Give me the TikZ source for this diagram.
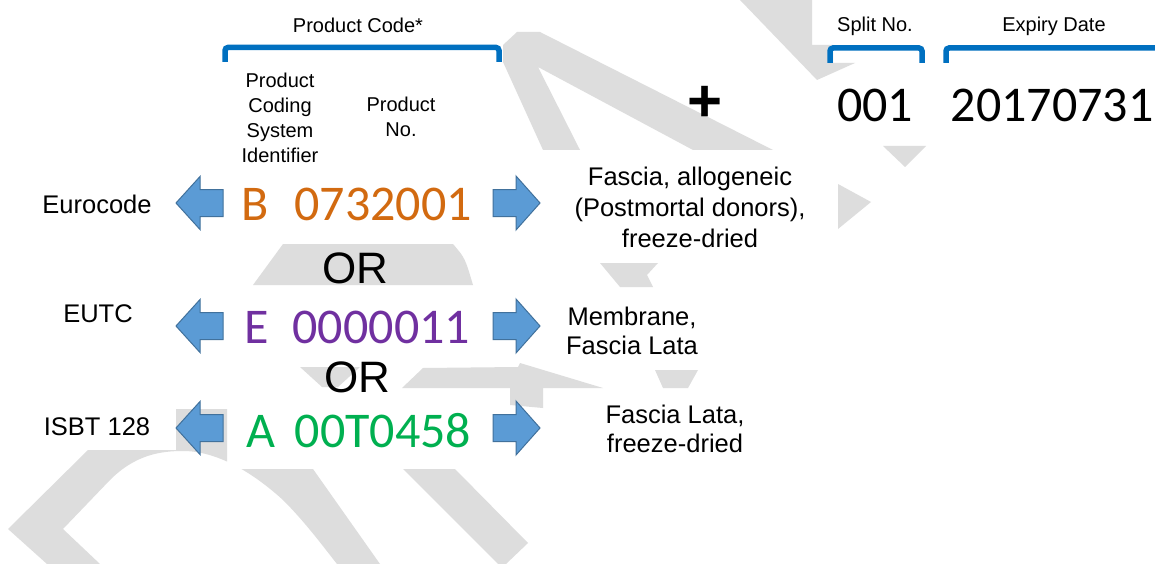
\documentclass[tikz,border=0pt]{standalone}
\usepackage{fontspec}
\setmainfont{Liberation Sans}
\newfontfamily\codefont{Carlito}

\definecolor{wmgrey}{RGB}{221,221,221}
\definecolor{bracketblue}{RGB}{0,112,192}
\definecolor{arrowfill}{RGB}{91,155,213}
\definecolor{arrowline}{RGB}{65,113,156}
\definecolor{codeorange}{RGB}{210,106,16}
\definecolor{codepurple}{RGB}{112,48,160}
\definecolor{codegreen}{RGB}{0,176,80}

\tikzset{
  wm/.style={fill=wmgrey,draw=none},
  bracket/.style={draw=bracketblue,line width=5.5pt,rounded corners=3pt},
  blockarrow/.style={fill=arrowfill,draw=arrowline,line width=1pt,line join=miter},
  hdr/.style={inner sep=0pt,anchor=base,font=\fontsize{20}{25}\selectfont},
  sublabel/.style={inner sep=0pt,anchor=base,align=center,font=\fontsize{20}{25}\selectfont},
  syslabel/.style={inner sep=0pt,anchor=base,font=\fontsize{25.5}{30}\selectfont},
  desc/.style={inner sep=0pt,anchor=base,align=center,font=\fontsize{25.5}{#1}\selectfont},
  desc/.default=29,
  codetext/.style={inner sep=0pt,anchor=base west,font=\codefont\fontsize{50}{60}\selectfont},
  bigdigits/.style={inner sep=0pt,font=\codefont\fontsize{50}{60}\selectfont},
  ortext/.style={inner sep=0pt,anchor=base,font=\fontsize{44}{50}\selectfont},
  leftarrow/.pic={\draw[blockarrow] (0,0) -- (24,-26.5) -- (24,-13.5) -- (47,-13.5)
      -- (47,13.5) -- (24,13.5) -- (24,26.5) -- cycle;},
  rightarrow/.pic={\draw[blockarrow] (0,0) -- (-24,-27) -- (-24,-13.5) -- (-47,-13.5)
      -- (-47,13.5) -- (-24,13.5) -- (-24,27) -- cycle;}
}

\begin{document}
\begin{tikzpicture}[x=1pt,y=-1pt]
\useasboundingbox[fill=white] (0,0) rectangle (1155,564);

% light grey background shapes
\fill[wm] (740,0) -- (812,0) -- (812,45) -- (833,45) -- (833,63) -- (855,63) -- (817,80) -- cycle;
\fill[wm] (503,62) -- (503,45) -- (517,32) -- (540,32) -- (773,150) -- (693,150)
  -- (538,67) -- (580,150) -- (543,150) -- cycle;
\fill[wm] (600,263) -- (658,263) -- (647,275) -- (653,287) -- (620,287) -- cycle;
\fill[wm] (655,370) -- (698,370) -- (688,388) -- (663,388) -- cycle;
\fill[wm] (402,388) -- (423,368) -- (518,367) -- (520,363) -- (603,388) -- (543,388)
  -- (543,408) -- (510,405) -- (510,388) -- cycle;
\fill[wm] (300,367) -- (360,367) -- (338,387) -- (322,387) -- cycle;
\fill[wm] (253,285) -- (283,244) -- (453,244) .. controls (465,258) .. (473,285) -- cycle;
\fill[wm] (883,146) -- (926,146) -- (905,167) -- cycle;
\fill[wm] (838,184) -- (871,202) -- (838,229) -- cycle;
\begin{scope}
  \clip (0,450) -- (176,450) -- (176,409) -- (227,409) -- (227,469) -- (1155,469)
    -- (1155,564) -- (0,564) -- cycle;
  \fill[wm] (47,564) -- (8,529) -- (88,450)
    .. controls (120,418) and (160,395) .. (205,395)
    .. controls (255,395) and (290,430) .. (313,469) -- (380,564) -- (337,564)
    .. controls (322,545) and (305,522) .. (283,500)
    .. controls (250,470) and (215,451) .. (183,451)
    .. controls (160,451) and (135,455) .. (110,480) -- (63,529) -- (100,564) -- cycle;
  \fill[wm] (403,469) -- (455,469) -- (528,543) -- (506,564) -- (498,564) -- cycle;
\end{scope}

% field headers and brackets
\node[hdr] (hdr-product) at (358,33) {Product Code*};
\node[hdr] (hdr-split) at (875,32) {Split No.};
\node[hdr] (hdr-expiry) at (1054,32) {Expiry Date};
\draw[bracket] (225,62) -- (225,47.5) -- (499,47.5) -- (499,62);
\draw[bracket] (830,63) -- (830,48) -- (922,48) -- (922,63);
\draw[bracket] (946,63) -- (946,48) -- (1170,48);

\node[sublabel] (sub-system) at (280,163) {Product\\Coding\\System\\Identifier};
\node[sublabel] (sub-number) at (401,137) {Product\\No.};

\node[inner sep=0pt,font=\fontsize{60}{60}\selectfont\bfseries] (plus) at (705,104) {+};
\node[bigdigits,anchor=base] (split-value) at (875,122) {001};
\node[bigdigits,anchor=base west] (expiry-value) at (950.5,122) {20170731};

% the three coding systems
\node[codetext,text=codeorange] (code-euro) at (241,220) {B\hspace{26pt}0732001};
\node[codetext,text=codepurple] (code-eutc) at (244,343) {E\hspace{24pt}0000011};
\node[codetext,text=codegreen] (code-isbt) at (246.7,447) {A\hspace{19pt}00T0458};

\node[ortext] (or-1) at (355,283) {OR};
\node[ortext] (or-2) at (357,392) {OR};

\node[syslabel] (sys-euro) at (97,213) {Eurocode};
\node[syslabel] (sys-eutc) at (98,322) {EUTC};
\node[syslabel] (sys-isbt) at (97,435) {ISBT 128};

\pic at (176,203) {leftarrow};
\pic at (176,326) {leftarrow};
\pic at (176,428) {leftarrow};
\pic at (540,203) {rightarrow};
\pic at (540,326) {rightarrow};
\pic at (540,428) {rightarrow};

\node[desc=31] (desc-euro) at (690,247) {Fascia, allogeneic\\(Postmortal donors),\\freeze-dried};
\node[desc] (desc-eutc) at (632,354) {Membrane,\\Fascia Lata};
\node[desc] (desc-isbt) at (675,452) {Fascia Lata,\\freeze-dried};
\end{tikzpicture}
\end{document}
